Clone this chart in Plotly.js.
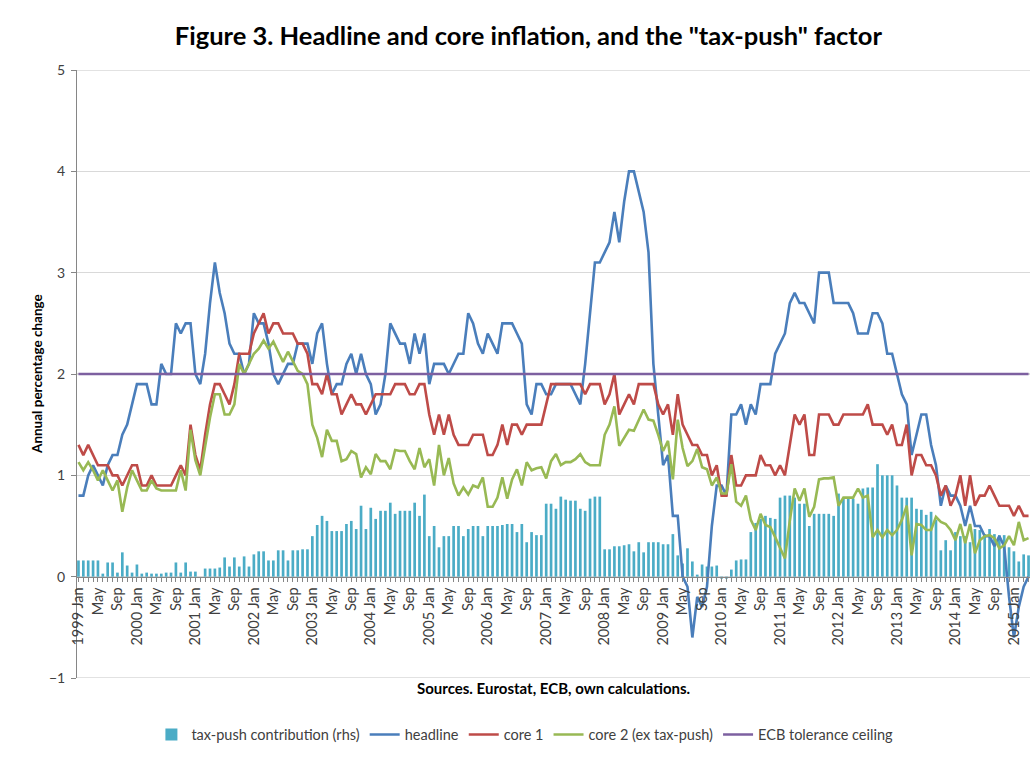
<!DOCTYPE html>
<html><head><meta charset="utf-8">
<script src="https://cdn.plot.ly/plotly-3.0.1.min.js"></script>
<style>html,body{margin:0;padding:0;background:#fff}#chart{width:1036px;height:757px}</style>
</head><body><div id="chart"></div>
<script>
// ---- Data ----
const monthNames = ['Jan','Feb','Mar','Apr','May','Jun','Jul','Aug','Sep','Oct','Nov','Dec'];
const firstYear = 1999;
const lastYear = 2015;
const lastMonthCount = 4; // data runs to 2015 Apr

const headline = [
  0.8,0.8,1.0,1.1,1.0,0.9,1.1,1.2,1.2,1.4,1.5,1.7,
  1.9,1.9,1.9,1.7,1.7,2.1,2.0,2.0,2.5,2.4,2.5,2.5,
  2.0,1.9,2.2,2.7,3.1,2.8,2.6,2.3,2.2,2.2,2.0,2.1,
  2.6,2.5,2.5,2.3,2.0,1.9,2.0,2.1,2.1,2.3,2.3,2.3,
  2.1,2.4,2.5,2.1,1.8,1.9,1.9,2.1,2.2,2.0,2.2,2.0,
  1.9,1.6,1.7,2.0,2.5,2.4,2.3,2.3,2.1,2.4,2.2,2.4,
  1.9,2.1,2.1,2.1,2.0,2.1,2.2,2.2,2.6,2.5,2.3,2.2,
  2.4,2.3,2.2,2.5,2.5,2.5,2.4,2.3,1.7,1.6,1.9,1.9,
  1.8,1.8,1.9,1.9,1.9,1.9,1.8,1.7,2.1,2.6,3.1,3.1,
  3.2,3.3,3.6,3.3,3.7,4.0,4.0,3.8,3.6,3.2,2.1,1.6,
  1.1,1.2,0.6,0.6,0.0,-0.1,-0.6,-0.2,-0.3,-0.1,0.5,0.9,
  0.9,0.8,1.6,1.6,1.7,1.5,1.7,1.6,1.9,1.9,1.9,2.2,
  2.3,2.4,2.7,2.8,2.7,2.7,2.6,2.5,3.0,3.0,3.0,2.7,
  2.7,2.7,2.7,2.6,2.4,2.4,2.4,2.6,2.6,2.5,2.2,2.2,
  2.0,1.8,1.7,1.2,1.4,1.6,1.6,1.3,1.1,0.7,0.9,0.8,
  0.8,0.7,0.5,0.7,0.5,0.5,0.4,0.4,0.3,0.4,0.3,-0.2,
  -0.6,-0.3,-0.1,0.0
];

const core1 = [
  1.3,1.2,1.3,1.2,1.1,1.1,1.1,1.0,1.0,0.9,1.0,1.1,
  1.1,0.9,0.9,1.0,0.9,0.9,0.9,0.9,1.0,1.1,1.0,1.5,
  1.2,1.05,1.4,1.7,1.9,1.9,1.8,1.7,1.9,2.2,2.2,2.2,
  2.4,2.5,2.6,2.4,2.5,2.5,2.4,2.4,2.4,2.3,2.3,2.2,
  1.9,1.9,1.8,2.0,1.8,1.8,1.6,1.7,1.8,1.7,1.7,1.6,
  1.7,1.8,1.8,1.8,1.8,1.9,1.9,1.9,1.8,1.8,1.9,1.9,
  1.6,1.4,1.6,1.4,1.6,1.4,1.3,1.3,1.3,1.4,1.4,1.4,
  1.2,1.2,1.3,1.5,1.3,1.5,1.5,1.4,1.5,1.5,1.5,1.5,
  1.7,1.9,1.9,1.9,1.9,1.9,1.9,1.9,1.8,1.9,1.9,1.9,
  1.7,1.8,2.0,1.6,1.7,1.8,1.7,1.9,1.9,1.9,1.9,1.7,
  1.6,1.7,1.4,1.8,1.5,1.4,1.3,1.3,1.2,1.2,1.0,1.1,
  0.8,0.8,1.2,0.9,0.9,1.0,1.0,1.0,1.2,1.1,1.1,1.0,
  1.1,1.0,1.3,1.6,1.5,1.6,1.2,1.2,1.6,1.6,1.6,1.5,
  1.5,1.6,1.6,1.6,1.6,1.6,1.7,1.5,1.5,1.5,1.4,1.5,
  1.3,1.3,1.5,1.0,1.2,1.2,1.1,1.1,1.0,0.8,0.9,0.7,
  0.8,1.0,0.7,1.0,0.7,0.8,0.8,0.9,0.8,0.7,0.7,0.7,
  0.6,0.7,0.6,0.6
];

const core2 = [
  1.13,1.05,1.13,1.05,0.95,1.05,0.95,0.85,0.95,0.64,0.88,1.05,
  0.95,0.85,0.85,0.95,0.87,0.85,0.85,0.85,0.85,1.05,0.85,1.45,
  1.15,1.0,1.3,1.57,1.8,1.8,1.6,1.6,1.7,2.1,2.0,2.1,
  2.2,2.25,2.33,2.25,2.32,2.22,2.12,2.22,2.12,2.03,2.0,1.9,
  1.5,1.37,1.18,1.45,1.34,1.34,1.14,1.16,1.24,1.21,0.98,1.08,
  1.01,1.21,1.14,1.14,1.06,1.25,1.24,1.24,1.14,1.06,1.27,1.08,
  1.16,0.9,1.3,1.0,1.17,0.92,0.8,0.88,0.81,0.9,0.88,0.98,
  0.69,0.69,0.78,0.98,0.77,0.96,1.06,0.9,1.13,1.05,1.07,1.08,
  0.97,1.14,1.21,1.1,1.13,1.13,1.16,1.21,1.13,1.1,1.1,1.1,
  1.4,1.5,1.68,1.29,1.37,1.45,1.44,1.55,1.65,1.55,1.54,1.4,
  1.24,1.34,0.96,1.55,1.27,1.09,1.14,1.26,1.08,1.06,0.9,0.98,
  0.82,0.82,1.11,0.74,0.7,0.8,0.56,0.46,0.62,0.51,0.49,0.39,
  0.28,0.18,0.55,0.87,0.75,0.87,0.59,0.69,0.96,0.97,0.97,0.98,
  0.7,0.78,0.78,0.78,0.87,0.78,0.8,0.39,0.46,0.39,0.46,0.41,
  0.46,0.56,0.7,0.21,0.52,0.51,0.46,0.46,0.59,0.54,0.52,0.46,
  0.36,0.52,0.33,0.52,0.23,0.36,0.4,0.41,0.38,0.28,0.31,0.4,
  0.31,0.54,0.36,0.38
];

const taxPush = [
  0.16,0.16,0.16,0.16,0.16,0.03,0.14,0.14,0.04,0.24,0.11,0.04,
  0.12,0.03,0.04,0.03,0.03,0.03,0.04,0.04,0.14,0.04,0.14,0.05,
  0.05,0.0,0.08,0.08,0.08,0.09,0.19,0.1,0.19,0.1,0.2,0.1,
  0.22,0.25,0.25,0.16,0.16,0.26,0.26,0.16,0.26,0.26,0.27,0.27,
  0.4,0.51,0.6,0.55,0.45,0.45,0.45,0.52,0.55,0.47,0.7,0.47,
  0.68,0.57,0.65,0.65,0.73,0.62,0.65,0.65,0.65,0.73,0.6,0.81,
  0.4,0.5,0.29,0.4,0.4,0.5,0.5,0.4,0.47,0.5,0.5,0.4,
  0.5,0.5,0.5,0.51,0.52,0.52,0.44,0.52,0.34,0.44,0.41,0.41,
  0.72,0.72,0.67,0.79,0.76,0.75,0.75,0.67,0.65,0.77,0.79,0.79,
  0.27,0.27,0.3,0.3,0.31,0.32,0.25,0.34,0.24,0.34,0.34,0.34,
  0.32,0.32,0.42,0.21,0.13,0.28,0.15,0.02,0.12,0.1,0.1,0.11,
  -0.02,-0.02,0.07,0.16,0.17,0.17,0.44,0.53,0.57,0.6,0.58,0.57,
  0.78,0.8,0.8,0.78,0.72,0.72,0.5,0.62,0.62,0.62,0.62,0.6,
  0.82,0.77,0.77,0.77,0.72,0.87,0.88,0.88,1.11,1.0,1.0,1.0,
  0.9,0.78,0.78,0.78,0.67,0.66,0.61,0.64,0.56,0.26,0.36,0.26,
  0.44,0.4,0.4,0.34,0.47,0.46,0.42,0.47,0.42,0.41,0.41,0.29,
  0.25,0.15,0.22,0.21
];

const ecbCeilingValue = 2.0;

// ---- Categories and tick labels ----
const categories = [];
for (let y = firstYear; y <= lastYear; y++) {
  const nm = (y === lastYear) ? lastMonthCount : 12;
  for (let m = 0; m < nm; m++) categories.push(y + ' ' + monthNames[m]);
}
const tickLabels = categories.map((c, i) => {
  if (i % 4 !== 0) return '';
  return c.endsWith('Jan') ? c : c.split(' ')[1];
});
const ecbCeiling = categories.map(() => ecbCeilingValue);

const FONT = 'Lato, "Open Sans", "DejaVu Sans", sans-serif';
const lineW = 2.6;
const GRID = '#D9D9D9';

const traces = [
  {type:'bar', name:'tax-push contribution (rhs)', x:categories, y:taxPush,
   marker:{color:'#4BACC6', line:{width:0}}},
  {type:'scatter', mode:'lines', name:'headline', x:categories, y:headline,
   line:{color:'#4A7EBB', width:lineW}},
  {type:'scatter', mode:'lines', name:'core 1', x:categories, y:core1,
   line:{color:'#BE4B48', width:lineW}},
  {type:'scatter', mode:'lines', name:'core 2 (ex tax-push)', x:categories, y:core2,
   line:{color:'#98B954', width:lineW}},
  {type:'scatter', mode:'lines', name:'ECB tolerance ceiling', x:categories, y:ecbCeiling,
   line:{color:'#7D60A0', width:lineW}}
];

const layout = {
  width:1036, height:757,
  margin:{l:77, r:6, t:70, b:74},
  paper_bgcolor:'#ffffff', plot_bgcolor:'#ffffff',
  font:{family:FONT, size:14, color:'#404040'},
  title:{text:'<b>Figure 3. Headline and core inflation, and the "tax-push" factor</b>',
         font:{family:FONT, size:25.5, color:'#000000'},
         x:0.51, xanchor:'center', xref:'container', y:0.953, yanchor:'middle', yref:'container'},
  bargap:0.45,
  showlegend:true,
  legend:{orientation:'h', x:0.47, xanchor:'center', y:-0.093, yanchor:'middle',
          font:{family:FONT, size:14.5, color:'#404040'}, traceorder:'normal',
          itemwidth:30, tracegroupgap:0},
  xaxis:{type:'category', range:[-0.3, categories.length - 0.7],
         anchor:'free', position:1/6,
         tickmode:'array', tickvals:categories, ticktext:tickLabels,
         tickangle:-90, ticks:'outside', ticklen:4, tickcolor:'#868686', tickwidth:1,
         tickfont:{family:FONT, size:14.5, color:'#404040'},
         showline:true, linecolor:'#868686', linewidth:1,
         showgrid:false, zeroline:false, automargin:false},
  yaxis:{range:[-1,5], dtick:1, tick0:0,
         showgrid:true, gridcolor:GRID, gridwidth:1.3,
         showline:true, linecolor:'#868686', linewidth:1,
         ticks:'outside', ticklen:5, tickcolor:'#868686',
         ticklabelstandoff:3,
         tickfont:{family:FONT, size:14, color:'#404040'},
         zeroline:false, automargin:false},
  shapes:[
    {type:'line', xref:'paper', yref:'y', x0:0, x1:1, y0:-1, y1:-1,
     line:{color:GRID, width:1.3}, layer:'below'},
    {type:'line', xref:'paper', yref:'y', x0:0, x1:1, y0:5, y1:5,
     line:{color:GRID, width:1.3}, layer:'below'}
  ],
  annotations:[
    {text:'<b>Annual percentage change</b>', xref:'paper', yref:'paper',
     x:-0.042, y:0.5, xanchor:'center', yanchor:'middle', textangle:-90, showarrow:false,
     font:{family:FONT, size:13.5, color:'#000000'}},
    {text:'<b>Sources. Eurostat, ECB, own calculations.</b>', xref:'paper', yref:'paper',
     x:0.5, y:-0.017, xanchor:'center', yanchor:'middle', showarrow:false,
     font:{family:FONT, size:15, color:'#000000'}}
  ]
};

Plotly.newPlot('chart', traces, layout, {displayModeBar:false, staticPlot:true});
</script>
</body></html>
